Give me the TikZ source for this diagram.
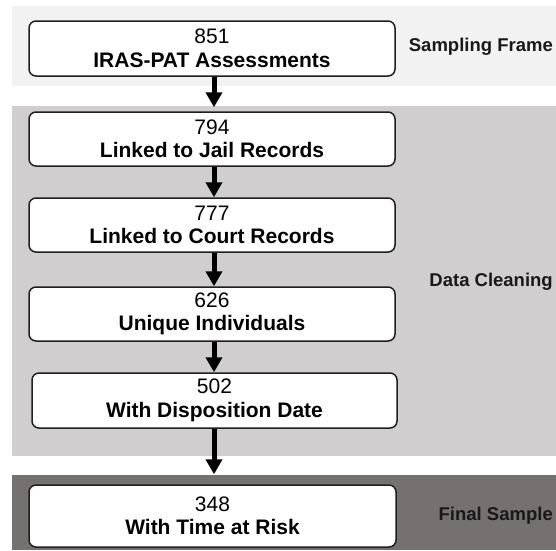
\documentclass[tikz,border=0pt]{standalone}
\usepackage{fontspec}
\setmainfont{Liberation Sans}
\usetikzlibrary{arrows.meta}
\definecolor{bandA}{HTML}{F2F2F2}
\definecolor{bandB}{HTML}{D0CECE}
\definecolor{bandC}{HTML}{767171}
\definecolor{edge}{HTML}{1F1F1F}
\tikzset{
  band/.style={fill=#1, draw=none},
  flowbox/.style={draw=edge, line width=1.5pt, fill=white, rounded corners=7pt,
    inner sep=0pt, align=center, font=\fontsize{21}{23.5}\selectfont},
  sidelabel/.style={anchor=east, inner sep=0pt, font=\fontsize{18.5}{22}\selectfont\bfseries, text=black!90},
  flowarrow/.style={line width=5pt, black, -{Triangle[width=16pt,length=15pt]}}
}
\begin{document}
\begin{tikzpicture}[x=1pt,y=-1pt]
\useasboundingbox (0,0) rectangle (556,550);
% bands
\fill[bandA] (12,6) rectangle (556,86);
\fill[bandB] (12,106) rectangle (556,456);
\fill[bandC] (12,475) rectangle (556,550);
% boxes
\node[flowbox, minimum width=366pt, minimum height=55pt] (b1) at (212,48.5) {851\\\textbf{IRAS-PAT Assessments}};
\node[flowbox, minimum width=366pt, minimum height=54pt] (b2) at (212,139) {794\\\textbf{Linked to Jail Records}};
\node[flowbox, minimum width=366pt, minimum height=54pt] (b3) at (212,225) {777\\\textbf{Linked to Court Records}};
\node[flowbox, minimum width=366pt, minimum height=54pt] (b4) at (212,314) {626\\\textbf{Unique Individuals}};
\node[flowbox, minimum width=365pt, minimum height=55pt] (b5) at (214.5,400.5) {502\\\textbf{With Disposition Date}};
\node[flowbox, minimum width=367pt, minimum height=62pt] (b6) at (212.5,516) {348\\\textbf{With Time at Risk}};
% side labels
\node[sidelabel] (l1) at (553,47) {Sampling Frame};
\node[sidelabel] (l2) at (553,282) {Data Cleaning};
\node[sidelabel] (l3) at (553,516) {Final Sample};
% arrows
\draw[flowarrow, shorten >=4pt] (b1.south -| 214,0) -- (b2.north -| 214,0);
\draw[flowarrow] (b2.south -| 214,0) -- (b3.north -| 214,0);
\draw[flowarrow] (b3.south -| 214,0) -- (b4.north -| 214,0);
\draw[flowarrow] (b4.south -| 214,0) -- (b5.north -| 214,0);
\draw[flowarrow, shorten >=10pt] (b5.south -| 214,0) -- (b6.north -| 214,0);
\end{tikzpicture}
\end{document}
